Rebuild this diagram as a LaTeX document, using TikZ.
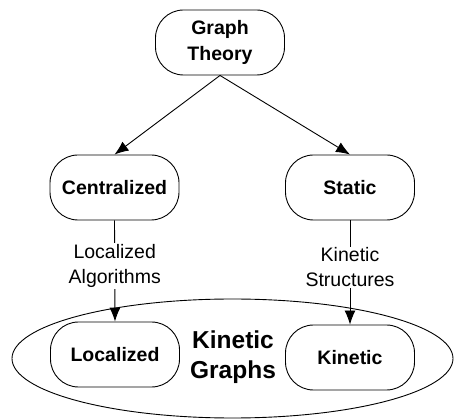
\documentclass[tikz,border=0pt]{standalone}
\usepackage{fontspec}
\setmainfont{Liberation Sans}
\usetikzlibrary{arrows.meta,shapes.geometric}
\begin{document}
\begin{tikzpicture}[x=1pt,y=-1pt,
  box/.style={draw,line width=0.9pt,rounded corners=28pt,minimum width=129pt,minimum height=65pt,inner sep=0pt,align=center,font=\fontsize{19.5}{26}\selectfont\bfseries},
  lbl/.style={fill=white,inner sep=1pt,align=center,font=\fontsize{19.5}{25}\selectfont},
  arr/.style={line width=0.9pt,-{Latex[length=14pt,width=11pt]}}]
\useasboundingbox (0,0) rectangle (455,419);
\node[draw,ellipse,line width=0.9pt,minimum width=441pt,minimum height=119pt,inner sep=0pt] (kg) at (232.5,358.5) {};
\node[font=\fontsize{24.5}{30}\selectfont\bfseries,align=center] (kgl) at (233,357) {Kinetic\\Graphs};
\node[box] (gt) at (220,42.5) {Graph\\Theory};
\node[box] (cen) at (114.5,187.5) {Centralized};
\node[box] (sta) at (350,187.5) {Static};
\node[box] (loc) at (115,354.5) {Localized};
\node[box] (kin) at (350,357.5) {Kinetic};
\draw[arr] (gt.south) -- (cen.north);
\draw[arr] (gt.south) -- (sta.north);
\draw[arr] (cen.south) -- node[lbl,pos=0.45] (la) {Localized\\Algorithms} (loc.north);
\draw[arr] (sta.south) -- node[lbl,pos=0.45] (ks) {Kinetic\\Structures} (kin.north);
\end{tikzpicture}
\end{document}
